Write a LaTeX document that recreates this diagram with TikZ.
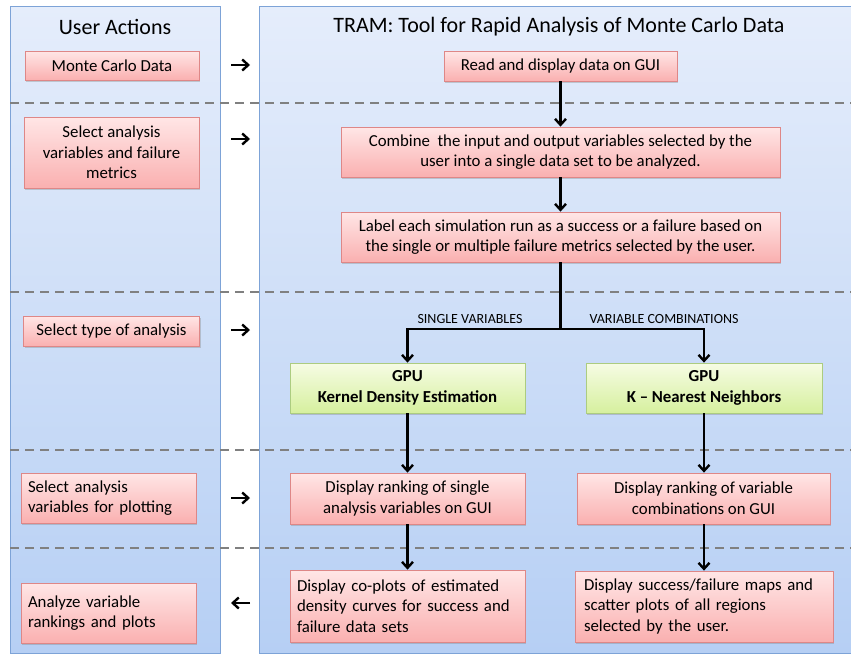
\documentclass[tikz,border=0pt]{standalone}
\usepackage{fontspec}
\setmainfont{Carlito}
\usetikzlibrary{arrows.meta,shadows}
\definecolor{paneltop}{RGB}{229,237,251}
\definecolor{panelbot}{RGB}{182,207,244}
\definecolor{panelline}{RGB}{125,163,215}
\definecolor{pinktop}{RGB}{255,230,230}
\definecolor{pinkbot}{RGB}{250,176,176}
\definecolor{pinkline}{RGB}{222,135,135}
\definecolor{greentop}{RGB}{246,252,228}
\definecolor{greenbot}{RGB}{214,240,158}
\definecolor{greenline}{RGB}{172,204,128}
\definecolor{dashgray}{RGB}{128,128,128}
\newcommand{\boxfont}{\fontsize{16.8}{20.7}\selectfont}
\tikzset{
  boxbase/.style={rectangle, inner ysep=2pt, line width=0.8pt,
    drop shadow={shadow xshift=1.2pt, shadow yshift=-1.8pt, opacity=0.35},
    font=\boxfont},
  pbox/.style={boxbase, draw=pinkline, top color=pinktop, bottom color=pinkbot},
  gbox/.style={boxbase, draw=greenline, top color=greentop, bottom color=greenbot},
  arr/.style={line width=2.6pt, -{Straight Barb[length=6pt,width=11pt,line width=2.4pt]}},
  plainline/.style={line width=2.6pt},
  sepline/.style={line width=2.6pt, dashgray, dash pattern=on 9pt off 6pt},
  title/.style={font=\fontsize{22}{26}\selectfont},
  branchlabel/.style={font=\fontsize{14}{16}\selectfont}
}
\begin{document}
\begin{tikzpicture}[x=1pt,y=-1pt]
\useasboundingbox (0,0) rectangle (851,656);
% panels
\shade[top color=paneltop, bottom color=panelbot, draw=panelline, line width=0.8pt]
  (10,6) rectangle (220,653);
\shade[top color=paneltop, bottom color=panelbot, draw=panelline, line width=0.8pt]
  (259,6) rectangle (853,653);
% separators
\foreach \yy in {103,292,450,548}
  \draw[sepline] (10,\yy) -- (851,\yy);
% titles
\node[title] (t1) at (115,27) {User Actions};
\node[title] (t2) at (559,27) {TRAM: Tool for Rapid Analysis of Monte Carlo Data};
% left boxes
\node[pbox, minimum width=174pt, minimum height=29pt] (mcd) at (112,65.5) {Monte Carlo Data};
\node[pbox, minimum width=175pt, minimum height=71pt, align=center] (sel1) at (111.5,152.5)
  {Select analysis\\variables and failure\\metrics};
\node[pbox, minimum width=176pt, minimum height=30pt] (sel2) at (111.5,331) {Select type of analysis};
\node[pbox, minimum width=175pt, minimum height=50pt, inner xsep=7pt, text width=161pt, align=left] (sel3) at (108.5,498)
  {Select analysis\\variables for plotting};
\node[pbox, minimum width=175pt, minimum height=60pt, inner xsep=7pt, text width=161pt, align=left] (sel4) at (108.5,613)
  {Analyze variable\\rankings and plots};
% right boxes
\node[pbox, minimum width=233pt, minimum height=30pt] (read) at (560.5,66) {Read and display data on GUI};
\node[pbox, minimum width=439pt, minimum height=50pt, align=center] (comb) at (560.5,152)
  {Combine\ \ the input and output variables selected by the\\user into a single data set to be analyzed.};
\node[pbox, minimum width=439pt, minimum height=50pt, align=center] (lab) at (560.5,237)
  {Label each simulation run as a success or a failure based on\\the single or multiple failure metrics selected by the user.};
\node[gbox, minimum width=235pt, minimum height=50pt, align=center, font=\boxfont\bfseries] (kde) at (407.5,388)
  {GPU\\Kernel Density Estimation};
\node[gbox, minimum width=236pt, minimum height=50pt, align=center, font=\boxfont\bfseries] (knn) at (704,388)
  {GPU\\K -- Nearest Neighbors};
\node[pbox, minimum width=235pt, minimum height=51pt, align=center] (dr1) at (407.5,498.5)
  {Display ranking of single\\analysis variables on GUI};
\node[pbox, minimum width=253pt, minimum height=51pt, align=center] (dr2) at (703.5,498.5)
  {Display ranking of variable\\combinations on GUI};
\node[pbox, minimum width=235pt, minimum height=72pt, inner xsep=7pt, text width=221pt, align=left] (dc1) at (407.5,606)
  {Display co-plots of estimated\\density curves for success and\\failure data sets};
\node[pbox, minimum width=258pt, minimum height=71pt, inner xsep=9pt, text width=240pt, align=left] (dc2) at (704,606.5)
  {Display success/failure maps and\\scatter plots of all regions\\selected by the user.};
% branch labels
\node[branchlabel] (lsv) at (470,319) {SINGLE VARIABLES};
\node[branchlabel] (lvc) at (664,319) {VARIABLE COMBINATIONS};
% flow connectors
\draw[arr] (read) -- (comb);
\draw[arr] (comb) -- (lab);
\coordinate (br) at (560.5,329);
\draw[plainline] (lab.south) -- (br);
\draw[arr] (br) -| (kde.north);
\draw[arr] (br) -| (knn.north);
\draw[arr] (kde) -- (dr1);
\draw[arr] (knn) -- (knn|-dr2.north);
\draw[arr] (dr1) -- (dc1);
\draw[arr] (dr2.south-|knn) -- (dc2.north-|knn);
% inter-panel arrows
\foreach \nm/\yy in {a/65,b/139,c/330,d/498,e/603}{
  \coordinate (\nm L) at (231,\yy);
  \coordinate (\nm R) at (250,\yy);
}
\draw[arr] (aL) -- (aR);
\draw[arr] (bL) -- (bR);
\draw[arr] (cL) -- (cR);
\draw[arr] (dL) -- (dR);
\draw[arr] (eR) -- (eL);
\end{tikzpicture}
\end{document}
